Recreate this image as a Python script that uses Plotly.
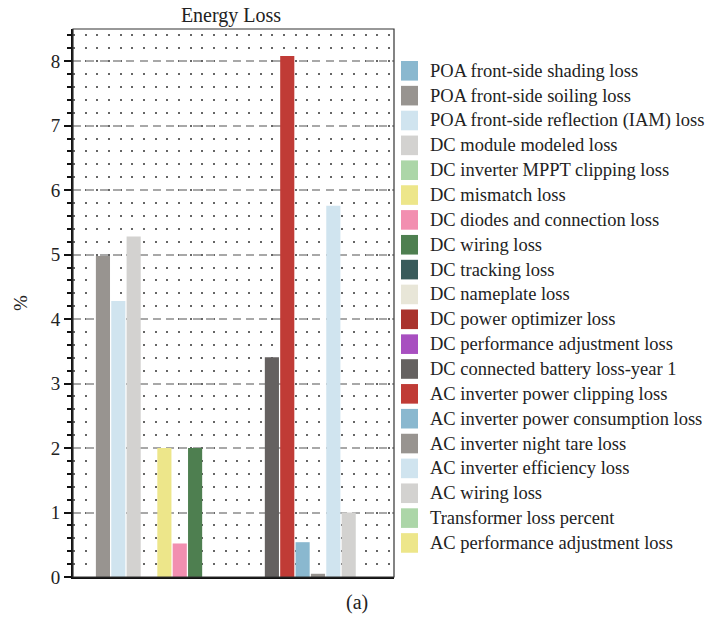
import plotly.graph_objects as go

names = [
    "POA front-side shading loss",
    "POA front-side soiling loss",
    "POA front-side reflection (IAM) loss",
    "DC module modeled loss",
    "DC inverter MPPT clipping loss",
    "DC mismatch loss",
    "DC diodes and connection loss",
    "DC wiring loss",
    "DC tracking loss",
    "DC nameplate loss",
    "DC power optimizer loss",
    "DC performance adjustment loss",
    "DC connected battery loss-year 1",
    "AC inverter power clipping loss",
    "AC inverter power consumption loss",
    "AC inverter night tare loss",
    "AC inverter efficiency loss",
    "AC wiring loss",
    "Transformer loss percent",
    "AC performance adjustment loss",
]
values = [0.0, 4.98, 4.28, 5.28, 0.0, 2.0, 0.52, 2.0, 0.0, 0.0,
          0.0, 0.0, 3.41, 8.08, 0.54, 0.05, 5.76, 1.0, 0.0, 0.0]
colors = [
    "#8ab8cf", "#989490", "#d0e4ef", "#d3d2d0", "#acd6a8",
    "#ede68a", "#f28fb0", "#4e7f50", "#395b5b", "#e8e6d8",
    "#a9332d", "#a84fc0", "#656160", "#c03b36", "#8ab8cf",
    "#989490", "#d0e4ef", "#d3d2d0", "#acd6a8", "#ede68a",
]
y_ticks = [0, 1, 2, 3, 4, 5, 6, 7, 8]

FONT = "Liberation Serif"
W, H = 707, 631
L, R, T, B = 73, 394, 29, 577  # plot area in pixels


def px(xp):
    return (xp - L) / (R - L)


def py(yp):
    return (B - yp) / (B - T)


fig = go.Figure()
for i, (n, v, c) in enumerate(zip(names, values, colors)):
    fig.add_trace(go.Bar(x=[i], y=[v], name=n, width=0.92,
                         marker=dict(color=c, line=dict(width=0)),
                         showlegend=False, hoverinfo="name+y"))

# legend drawn as shapes + text
shapes = []
annotations = []
for i, (n, c) in enumerate(zip(names, colors)):
    cy = 70.8 + 24.85 * i
    shapes.append(dict(type="rect", xref="paper", yref="paper",
                       x0=px(401), x1=px(418), y0=py(cy + 9.8), y1=py(cy - 9.8),
                       fillcolor=c, line=dict(width=0), layer="above"))
    annotations.append(dict(text=n, xref="paper", yref="paper",
                            x=px(428), y=py(cy), xanchor="left", yanchor="middle",
                            showarrow=False,
                            font=dict(family=FONT, size=18.5, color="#222")))

shapes.append(dict(type="rect", xref="paper", yref="paper", x0=0, x1=1, y0=0, y1=1,
                   line=dict(color="#333", width=1.2), layer="above"))
annotations.append(dict(text="(a)", xref="paper", yref="paper",
                        x=px(356.5), y=py(603),
                        xanchor="center", yanchor="middle", showarrow=False,
                        font=dict(family=FONT, size=20, color="#222")))

fig.update_layout(
    width=W, height=H,
    margin=dict(l=L, r=W - R, t=T, b=H - B),
    paper_bgcolor="white", plot_bgcolor="white",
    barmode="overlay",
    showlegend=False,
    font=dict(family=FONT, color="#222", size=17),
    title=dict(text="Energy Loss", x=(231 / W), xanchor="center",
               y=1 - 15 / H, yanchor="middle", yref="container",
               font=dict(family=FONT, size=20, color="#222")),
    xaxis=dict(range=[-0.95, 19.95], showticklabels=False, ticks="",
               showgrid=False, zeroline=False, showline=True,
               linecolor="#111", linewidth=2, mirror=False),
    yaxis=dict(range=[0, 8.5], tickvals=y_ticks, ticks="outside", ticklen=7,
               tickwidth=1.5, tickcolor="#111",
               tickfont=dict(family=FONT, size=19, color="#222"),
               showgrid=True, gridcolor="#a8a8a8", gridwidth=1.5,
               griddash="8px,5.3px", zeroline=False,
               showline=True, linecolor="#111", linewidth=2, mirror=False,
               title=dict(text="%", standoff=18,
                          font=dict(family=FONT, size=19, color="#222")),
               minor=dict(dtick=0.2, showgrid=True, gridcolor="#666",
                          gridwidth=1.5, griddash="2px,9.67px",
                          ticks="outside", ticklen=4, tickwidth=1.5,
                          tickcolor="#111")),
    shapes=shapes,
    annotations=annotations,
)
fig.write_html("out.html")
